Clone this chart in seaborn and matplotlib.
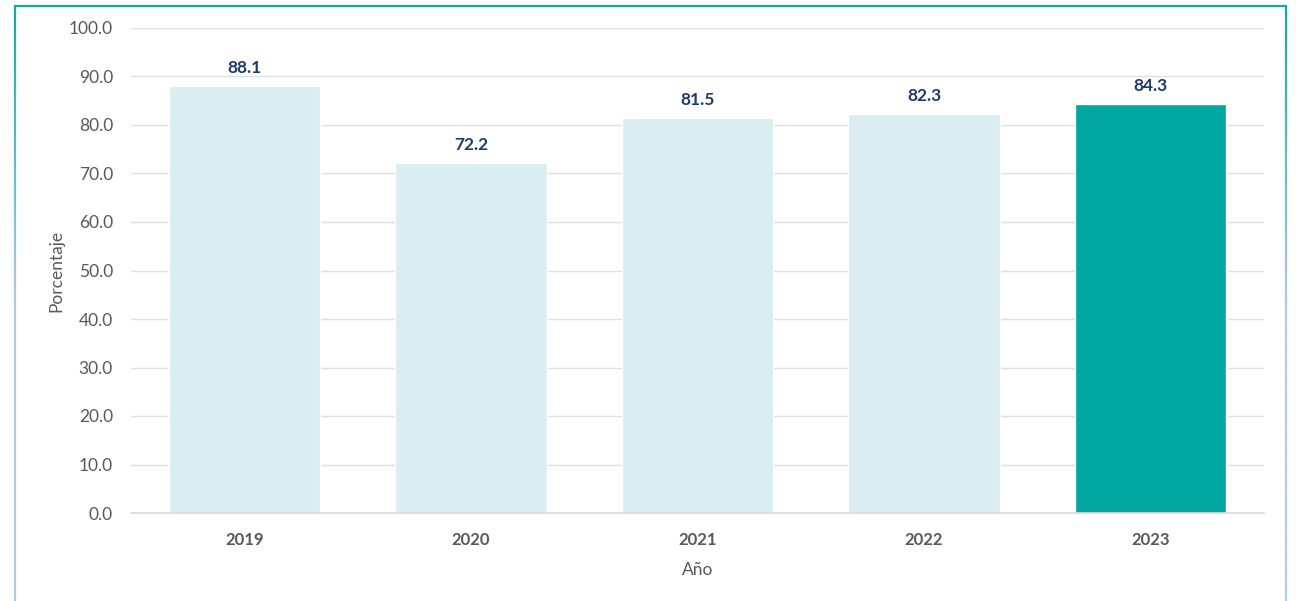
import numpy as np
import pandas as pd
import matplotlib
matplotlib.use("Agg")
import matplotlib.pyplot as plt
import seaborn as sns
from matplotlib.lines import Line2D
from matplotlib.colors import to_rgb

years = ["2019", "2020", "2021", "2022", "2023"]
values = [88.1, 72.2, 81.5, 82.3, 84.3]
y_ticks = [0, 10, 20, 30, 40, 50, 60, 70, 80, 90, 100]

sns.set_theme(style="white")
plt.rcParams['font.family'] = ['Lato', 'DejaVu Sans']

df = pd.DataFrame({"Año": years, "Porcentaje": values})
light = "#daedf3"
teal = "#00a6a0"
palette = {y: (teal if y == "2023" else light) for y in years}

fig = plt.figure(figsize=(12.96, 6.01), dpi=100)
ax = fig.add_axes([131/1296, 1-513/601, (1264-131)/1296, (513-28)/601])

sns.barplot(data=df, x="Año", y="Porcentaje", hue="Año", palette=palette,
            legend=False, width=0.668, ax=ax, saturation=1)

ax.set_ylim(0, 100)
ax.set_xlim(-0.5, 4.5)
ax.set_yticks(y_ticks)
ax.set_yticklabels([f"{t:.1f}" for t in y_ticks], color="#595959", fontsize=12.5)
ax.yaxis.grid(True, color="#e0e0e0", linewidth=1)
ax.set_axisbelow(True)
for s in ["top", "right", "left"]:
    ax.spines[s].set_visible(False)
ax.spines["bottom"].set_color("#d9d9d9")
ax.spines["bottom"].set_linewidth(1.2)
ax.tick_params(axis="both", length=0)
ax.tick_params(axis="y", pad=13)
ax.tick_params(axis="x", pad=14)
for lbl in ax.get_xticklabels():
    lbl.set_fontweight("bold")
    lbl.set_color("#595959")
    lbl.set_fontsize(12)

ax.set_xlabel("Año", color="#595959", fontsize=12.5, labelpad=10)
ax.set_ylabel("Porcentaje", color="#595959", fontsize=12.5, labelpad=3)

for i, v in enumerate(values):
    ax.annotate(f"{v:.1f}", xy=(i, v), xytext=(0, 7), textcoords="offset points",
                ha="center", va="bottom", fontsize=12.5, fontweight="bold",
                color="#1f3a6e")

# frame
W, H = 1296, 601
def fx(x): return x / W
def fy(y): return 1 - y / H
fig.add_artist(Line2D([fx(15), fx(1286)], [fy(6), fy(6)], color="#17aaa4", lw=1.6))
c1 = np.array(to_rgb("#17aaa4")); c2 = np.array(to_rgb("#b7cbe8"))
n = 40
ys = np.linspace(6, 601, n + 1)
for k in range(n):
    t = min(1.0, k / (n * 0.5))
    c = c1 * (1 - t) + c2 * t
    for xx in (15, 1286):
        fig.add_artist(Line2D([fx(xx), fx(xx)], [fy(ys[k]), fy(ys[k + 1])], color=c, lw=1.6))

fig.savefig("out.png", dpi=100, facecolor="white")
